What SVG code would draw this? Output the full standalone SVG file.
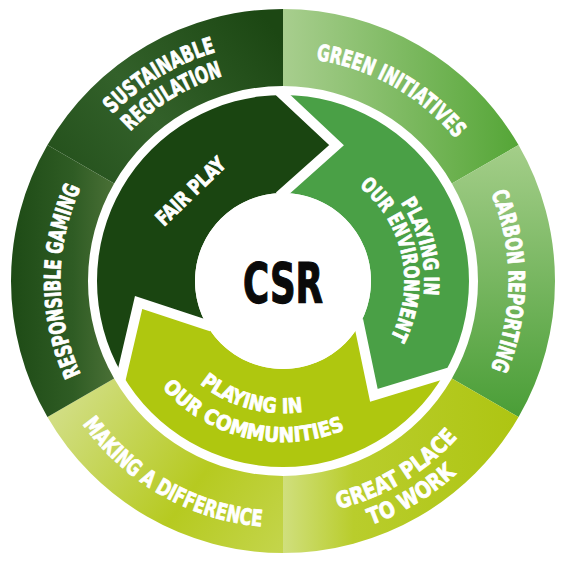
<svg xmlns="http://www.w3.org/2000/svg" width="566" height="564" viewBox="0 0 566 564">
<style>
.lbl{font-family:"DejaVu Sans Condensed","DejaVu Sans","Liberation Sans Narrow",sans-serif;font-weight:bold;font-stretch:condensed;fill:#ffffff;stroke:#ffffff;stroke-width:0.8;stroke-linejoin:round;}
.outer{font-size:22.5px;}
.inner{font-size:20.5px;}
.gap{fill:none;stroke:#ffffff;stroke-width:10;stroke-linejoin:miter;stroke-linecap:square;}
</style>
<defs>
<linearGradient id="gSR" gradientUnits="userSpaceOnUse" x1="47" y1="230" x2="283" y2="40">
<stop offset="0" stop-color="#1e4a16"/><stop offset="0.5" stop-color="#33612a"/><stop offset="1" stop-color="#1c4713"/>
</linearGradient>
<linearGradient id="gRG" gradientUnits="userSpaceOnUse" x1="12" y1="281" x2="114" y2="281">
<stop offset="0" stop-color="#1e4b16"/><stop offset="0.6" stop-color="#2f5c24"/><stop offset="1" stop-color="#4a7036"/>
</linearGradient>
<linearGradient id="gGI" gradientUnits="userSpaceOnUse" x1="283" y1="60" x2="518" y2="60">
<stop offset="0" stop-color="#a8ce8e"/><stop offset="1" stop-color="#55a637"/>
</linearGradient>
<linearGradient id="gCR" gradientUnits="userSpaceOnUse" x1="500" y1="145" x2="500" y2="417">
<stop offset="0" stop-color="#a4ce89"/><stop offset="1" stop-color="#4a9e37"/>
</linearGradient>
<linearGradient id="gGP" gradientUnits="userSpaceOnUse" x1="283" y1="500" x2="518" y2="500">
<stop offset="0" stop-color="#d0df7d"/><stop offset="0.3" stop-color="#b9cd2c"/><stop offset="1" stop-color="#aec512"/>
</linearGradient>
<linearGradient id="gMD" gradientUnits="userSpaceOnUse" x1="60" y1="390" x2="283" y2="553">
<stop offset="0" stop-color="#d3df8a"/><stop offset="0.6" stop-color="#b6ca20"/><stop offset="1" stop-color="#c4d54c"/>
</linearGradient>
<path id="pSust" d="M44.44 285.16 A238.6 238.6 0 0 1 398.68 72.32"/>
<path id="pReg" d="M69.43 284.73 A213.6 213.6 0 0 1 386.56 94.18"/>
<path id="pGreen" d="M169.51 88.34 A223.6 223.6 0 0 1 506.59 279.05"/>
<path id="pCarbon" d="M395.8 85.62 A225.6 225.6 0 0 1 395.8 476.38"/>
<path id="pResp" d="M171.7 473.78 A222.6 222.6 0 0 1 171.7 88.22"/>
<path id="pMaking" d="M36.6 282.07 A246.4 246.4 0 0 0 407.13 493.85"/>
<path id="pGreat" d="M169.01 485.82 A234.4 234.4 0 0 0 517.37 277.32"/>
<path id="pWork" d="M156.86 507.66 A259.4 259.4 0 0 0 542.37 276.93"/>
<path id="pEnv1" d="M297.78 140.37 A141.4 141.4 0 0 1 362.07 398.23"/>
<path id="pEnv2" d="M300.53 160.87 A121.4 121.4 0 0 1 346.79 384.29"/>
<path id="pCom1" d="M151.36 292.05 A132.1 132.1 0 0 0 390.94 357.15"/>
<path id="pCom2" d="M123.2 300.62 A161 161 0 0 0 418.03 368.69"/>
</defs>

<g id="ring-sustainable-regulation">
<path d="M47.44 145 A272 272 0 0 1 283 9 L283 86 A195 195 0 0 0 114.12 183.5 Z" fill="url(#gSR)"/>
<text class="lbl outer"><textPath href="#pSust" startOffset="50%" text-anchor="middle" textLength="122" lengthAdjust="spacingAndGlyphs">SUSTAINABLE</textPath></text>
<text class="lbl outer"><textPath href="#pReg" startOffset="50%" text-anchor="middle" textLength="109" lengthAdjust="spacingAndGlyphs">REGULATION</textPath></text>
</g>
<g id="ring-green-initiatives">
<path d="M283 9 A272 272 0 0 1 518.56 145 L451.88 183.5 A195 195 0 0 0 283 86 Z" fill="url(#gGI)"/>
<text class="lbl outer"><textPath href="#pGreen" startOffset="50%" text-anchor="middle" textLength="164" lengthAdjust="spacingAndGlyphs">GREEN INITIATIVES</textPath></text>
</g>
<g id="ring-carbon-reporting">
<path d="M518.56 145 A272 272 0 0 1 518.56 417 L451.88 378.5 A195 195 0 0 0 451.88 183.5 Z" fill="url(#gCR)"/>
<text class="lbl outer"><textPath href="#pCarbon" startOffset="50%" text-anchor="middle" textLength="180" lengthAdjust="spacingAndGlyphs">CARBON REPORTING</textPath></text>
</g>
<g id="ring-great-place-to-work">
<path d="M518.56 417 A272 272 0 0 1 283 553 L283 476 A195 195 0 0 0 451.88 378.5 Z" fill="url(#gGP)"/>
<text class="lbl outer"><textPath href="#pGreat" startOffset="50%" text-anchor="middle" textLength="141" lengthAdjust="spacingAndGlyphs">GREAT PLACE</textPath></text>
<text class="lbl outer"><textPath href="#pWork" startOffset="50%" text-anchor="middle" textLength="100" lengthAdjust="spacingAndGlyphs">TO WORK</textPath></text>
</g>
<g id="ring-making-a-difference">
<path d="M283 553 A272 272 0 0 1 47.44 417 L114.12 378.5 A195 195 0 0 0 283 476 Z" fill="url(#gMD)"/>
<text class="lbl outer"><textPath href="#pMaking" startOffset="50%" text-anchor="middle" textLength="213" lengthAdjust="spacingAndGlyphs">MAKING A DIFFERENCE</textPath></text>
</g>
<g id="ring-responsible-gaming">
<path d="M47.44 417 A272 272 0 0 1 47.44 145 L114.12 183.5 A195 195 0 0 0 114.12 378.5 Z" fill="url(#gRG)"/>
<text class="lbl outer"><textPath href="#pResp" startOffset="50%" text-anchor="middle" textLength="192" lengthAdjust="spacingAndGlyphs">RESPONSIBLE GAMING</textPath></text>
</g>

<g id="arrow-fair-play">
<path d="M121.92 374 L138.6 302.58 L206.79 325 A88 88 0 0 1 283 193 L336.51 145.16 L283 95 A186 186 0 0 0 121.92 374 Z" fill="#1a4511"/>
</g>
<g id="arrow-environment">
<path d="M283 95 L336.51 145.16 L283 193 A88 88 0 0 1 359.21 325 L373.89 395.26 L444.08 374 A186 186 0 0 0 283 95 Z" fill="#4aa046"/>
</g>
<g id="arrow-communities">
<path d="M444.08 374 L373.89 395.26 L359.21 325 A88 88 0 0 1 206.79 325 L138.6 302.58 L121.92 374 A186 186 0 0 0 444.08 374 Z" fill="#afc70f"/>
</g>

<g id="connectors">
<path class="gap" d="M283 95 L336.51 145.16 L283 193"/>
<path class="gap" d="M444.08 374 L373.89 395.26 L359.21 325"/>
<path class="gap" d="M206.79 325 L138.6 302.58 L121.92 374"/>
</g>

<g id="arrow-labels">
<text class="lbl inner" transform="translate(190.3,190.9) rotate(-44)" text-anchor="middle" y="7.6" textLength="88" lengthAdjust="spacingAndGlyphs">FAIR PLAY</text>
<text class="lbl inner"><textPath href="#pEnv1" startOffset="50%" text-anchor="middle" textLength="97" lengthAdjust="spacingAndGlyphs">PLAYING IN</textPath></text>
<text class="lbl inner"><textPath href="#pEnv2" startOffset="50%" text-anchor="middle" textLength="167" lengthAdjust="spacingAndGlyphs">OUR ENVIRONMENT</textPath></text>
<text class="lbl inner"><textPath href="#pCom1" startOffset="50%" text-anchor="middle" textLength="110" lengthAdjust="spacingAndGlyphs">PLAYING IN</textPath></text>
<text class="lbl inner"><textPath href="#pCom2" startOffset="50%" text-anchor="middle" textLength="200" lengthAdjust="spacingAndGlyphs">OUR COMMUNITIES</textPath></text>
</g>

<g id="center-csr">
<circle cx="283" cy="281" r="88" fill="#ffffff"/>
<text x="283" y="302" text-anchor="middle" textLength="80" lengthAdjust="spacingAndGlyphs" style="font-family:'DejaVu Sans Condensed','DejaVu Sans',sans-serif;font-weight:bold;font-stretch:condensed;font-size:55px;fill:#0a0a0a;stroke:#0a0a0a;stroke-width:1.2;">CSR</text>
</g>
</svg>
